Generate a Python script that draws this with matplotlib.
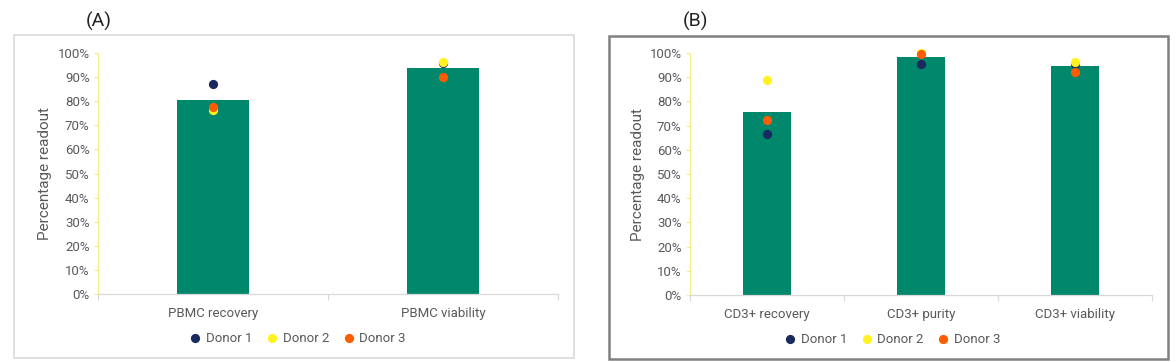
import numpy as np
import matplotlib
matplotlib.use('Agg')
import matplotlib.pyplot as plt
from matplotlib.patches import Rectangle
from matplotlib.ticker import PercentFormatter, FixedLocator

plt.rcParams['font.family'] = ['Roboto', 'DejaVu Sans']

# panel A
cats_a = ['PBMC recovery', 'PBMC viability']
mean_a = [80.5, 93.9]
donor1_a = [87.2, 95.7]
donor2_a = [76.3, 96.4]
donor3_a = [77.6, 90.0]

# panel B
cats_b = ['CD3+ recovery', 'CD3+ purity', 'CD3+ viability']
mean_b = [75.8, 98.2, 94.5]
donor1_b = [66.4, 95.3, 95.5]
donor2_b = [88.9, 100.0, 96.1]
donor3_b = [72.2, 99.6, 92.3]

donor_names = ['Donor 1', 'Donor 2', 'Donor 3']
donor_colors = ['#1B2A5E', '#FFF21F', '#FF5C00']
bar_color = '#00876C'
tick_col = '#595959'

fig = plt.figure(figsize=(11.76, 3.62), dpi=100)

# panel frames
fig.patches.append(Rectangle((0.0119, 0.011), 0.476, 0.892, transform=fig.transFigure,
                             fill=False, edgecolor='#D9D9D9', lw=1.2))
fig.patches.append(Rectangle((0.5179, 0.0083), 0.4753, 0.892, transform=fig.transFigure,
                             fill=False, edgecolor='#808080', lw=1.8))

ax_a = fig.add_axes([0.0833, 0.1878, 0.3912, 0.6658])
ax_b = fig.add_axes([0.5867, 0.1850, 0.3929, 0.6686])


def draw_panel(ax, cats, means, donors, ylab_x, leg_x):
    x = np.arange(len(cats))
    ax.bar(x, means, width=0.31, color=bar_color, zorder=2)
    for vals, name, col in zip(donors, donor_names, donor_colors):
        ax.scatter(x, vals, s=44, color=col, label=name, zorder=3, linewidths=0, clip_on=False)
    ax.set_xlim(-0.5, len(cats) - 0.5)
    ax.set_ylim(0, 100)
    ax.set_yticks(np.arange(0, 101, 10))
    ax.yaxis.set_major_formatter(PercentFormatter(decimals=0))
    ax.set_xticks(x)
    ax.set_xticklabels(cats)
    ax.xaxis.set_minor_locator(FixedLocator(np.arange(-0.5, len(cats), 1.0)))
    ax.tick_params(axis='x', which='major', length=0, pad=9, labelsize=9.5, labelcolor=tick_col)
    ax.tick_params(axis='x', which='minor', length=4, color='#D9D9D9', width=0.8)
    ax.tick_params(axis='y', length=3, color='#F5EE8A', width=0.8, labelsize=9.5,
                   labelcolor=tick_col, pad=3)
    for s in ['top', 'right']:
        ax.spines[s].set_visible(False)
    ax.spines['left'].set_color('#F5EE8A')
    ax.spines['left'].set_linewidth(0.9)
    ax.spines['bottom'].set_color('#D9D9D9')
    ax.spines['bottom'].set_linewidth(0.9)
    ax.set_ylabel('Percentage readout', fontsize=11, color=tick_col)
    ax.yaxis.set_label_coords(ylab_x, 0.5)
    ax.legend(loc='center', bbox_to_anchor=(leg_x, -0.183), ncol=3, frameon=False,
              fontsize=9.5, handletextpad=-0.2, columnspacing=0.5, markerscale=1.0,
              labelcolor=tick_col, scatterpoints=1)


draw_panel(ax_a, cats_a, mean_a, [donor1_a, donor2_a, donor3_a], -0.1, 0.426)
draw_panel(ax_b, cats_b, mean_b, [donor1_b, donor2_b, donor3_b], -0.097, 0.43)

fig.text(0.0842, 0.94, '(A)', fontsize=14, color='#222222', ha='center', va='center')
fig.text(0.591, 0.94, '(B)', fontsize=14, color='#222222', ha='center', va='center')

fig.savefig('out.png', dpi=100)
